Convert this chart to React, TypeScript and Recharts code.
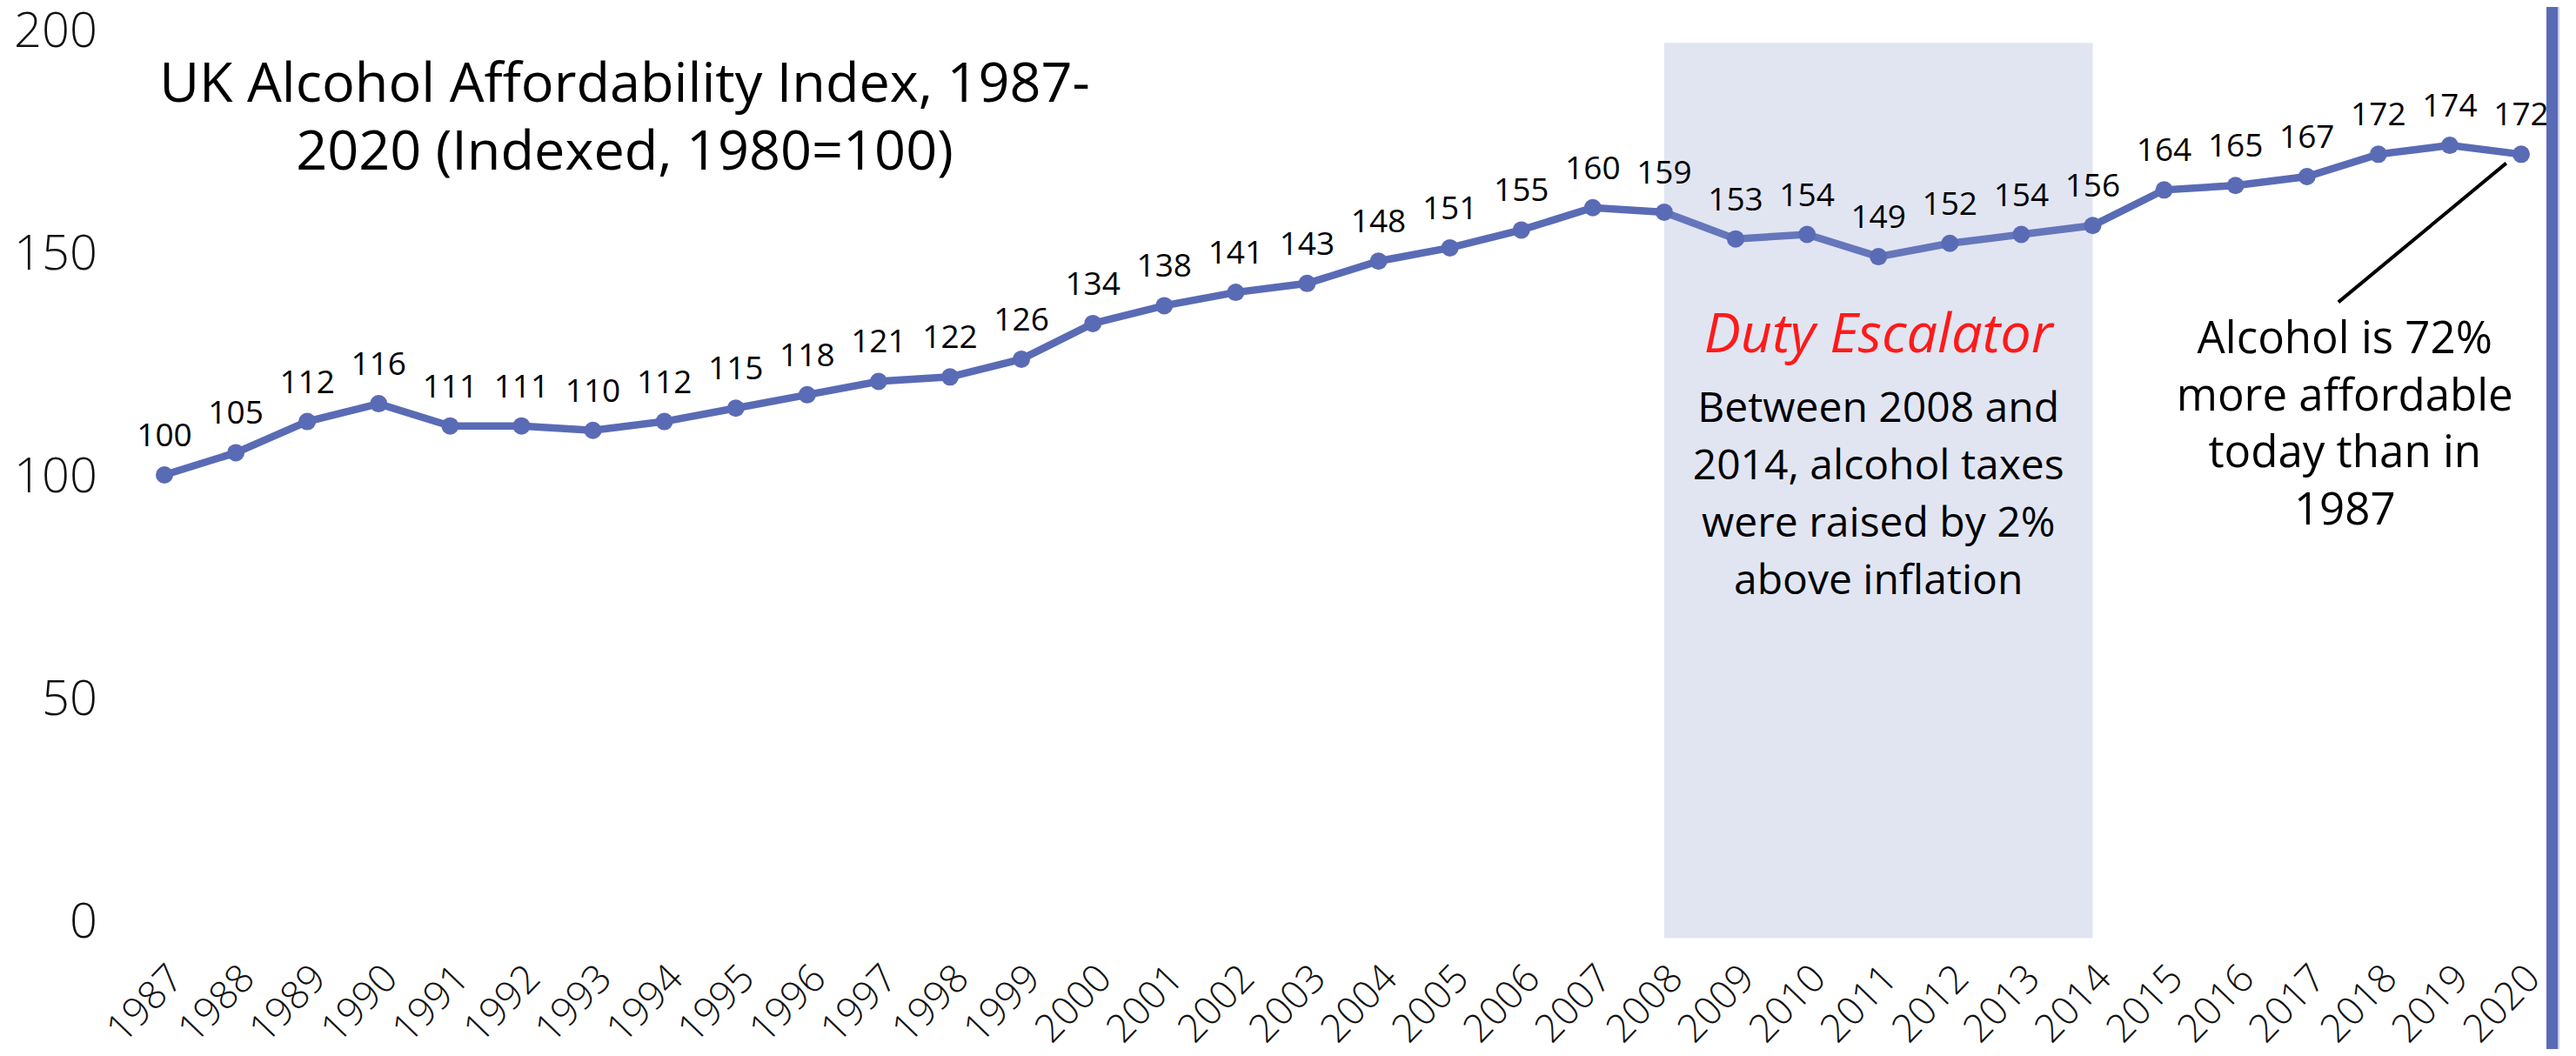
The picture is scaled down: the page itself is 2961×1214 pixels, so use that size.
import React from 'react';
import {
  LineChart,
  Line,
  XAxis,
  YAxis,
  ReferenceArea,
  ReferenceLine,
  LabelList,
} from 'recharts';

const years = [
  1987, 1988, 1989, 1990, 1991, 1992, 1993, 1994, 1995, 1996, 1997, 1998,
  1999, 2000, 2001, 2002, 2003, 2004, 2005, 2006, 2007, 2008, 2009, 2010,
  2011, 2012, 2013, 2014, 2015, 2016, 2017, 2018, 2019, 2020,
];
const affordability = [
  100, 105, 112, 116, 111, 111, 110, 112, 115, 118, 121, 122,
  126, 134, 138, 141, 143, 148, 151, 155, 160, 159, 153, 154,
  149, 152, 154, 156, 164, 165, 167, 172, 174, 172,
];
const yTicks = [0, 50, 100, 150, 200];
const escalatorStart = 2008;
const escalatorEnd = 2014;

const titleLines = ['UK Alcohol Affordability Index, 1987-', '2020 (Indexed, 1980=100)'];
const escalatorTitle = 'Duty Escalator';
const escalatorNote = ['Between 2008 and', '2014, alcohol taxes', 'were raised by 2%', 'above inflation'];
const calloutNote = ['Alcohol is 72%', 'more affordable', 'today than in', '1987'];

const data = years.map((year, i) => ({ year, index: affordability[i] }));

const BLUE = '#5A6BB5';
const FONT = '"Open Sans", "Noto Sans", sans-serif';
const W = 2961;
const H = 1214;

function YearTick({ x, y, payload }: any) {
  const ax = x + 24;
  const ay = y + 63;
  return (
    <text
      x={ax}
      y={ay}
      transform={`rotate(-46 ${ax} ${ay})`}
      textAnchor="end"
      fontSize={45}
      fontFamily={FONT}
      fontWeight={300}
      fill="#111"
    >
      {payload.value}
    </text>
  );
}

function escalatorLabel(props: any) {
  const vb = props.viewBox;
  const cx = vb.x + vb.width / 2;
  const top = vb.y;
  return (
    <g fontFamily={FONT} textAnchor="middle">
      <text x={cx} y={top + 356} fill="#FF1A1A" fontStyle="italic" fontSize={63}>
        {escalatorTitle}
      </text>
      {escalatorNote.map((line, i) => (
        <text key={line} x={cx} y={top + 436 + i * 66} fontSize={48} fill="#000">
          {line}
        </text>
      ))}
    </g>
  );
}

function calloutLabel(props: any) {
  const vb = props.viewBox;
  const cx = vb.x + vb.width / 2;
  const top = vb.y;
  return (
    <g fontFamily={FONT} textAnchor="middle">
      {calloutNote.map((line, i) => (
        <text key={line} x={cx} y={top + i * 65.5} fontSize={51} fill="#000">
          {line}
        </text>
      ))}
    </g>
  );
}

export default function App() {
  return (
    <div style={{ position: 'relative', width: W, height: H, margin: -8, background: '#fff' }}>
      <LineChart
        width={W}
        height={H}
        data={data}
        margin={{ top: 34, right: 63, bottom: 0, left: 0 }}
      >
        <XAxis
          type="number"
          dataKey="year"
          domain={[1987, 2020]}
          ticks={years}
          interval={0}
          axisLine={false}
          tickLine={false}
          tickMargin={0}
          height={156}
          tick={<YearTick />}
        />
        <YAxis
          domain={[0, 200]}
          ticks={yTicks}
          width={189}
          axisLine={false}
          tickLine={false}
          tickMargin={71}
          tick={{ fontSize: 56, fontFamily: FONT, fontWeight: 300, fill: '#111' }}
        />
        <Line
          type="linear"
          dataKey="index"
          stroke={BLUE}
          strokeWidth={8.5}
          dot={{ r: 10, fill: BLUE, stroke: BLUE, strokeWidth: 0 }}
          activeDot={false}
          isAnimationActive={false}
        />
        <ReferenceArea
          x1={escalatorStart}
          x2={escalatorEnd}
          y1={-4}
          y2={197}
          ifOverflow="visible"
          fill="#8999CC"
          fillOpacity={0.255}
          stroke="none"
          zIndex={450}
          label={escalatorLabel}
        />
        <ReferenceArea
          x1={2016}
          x2={2019.06}
          y1={0}
          y2={127.3}
          ifOverflow="visible"
          fill="none"
          fillOpacity={0}
          stroke="none"
          label={calloutLabel}
        />
        <ReferenceLine
          segment={[
            { x: 2017.44, y: 138.8 },
            { x: 2019.79, y: 170.0 },
          ]}
          stroke="#000"
          strokeWidth={4}
          ifOverflow="visible"
        />
        <Line
          type="linear"
          dataKey="index"
          stroke="none"
          dot={false}
          activeDot={false}
          isAnimationActive={false}
          legendType="none"
        >
          <LabelList
            dataKey="index"
            position="top"
            offset={33}
            fontSize={37}
            fontFamily={FONT}
            fill="#000"
          />
        </Line>
      </LineChart>
      <svg
        width={W}
        height={H}
        style={{ position: 'absolute', left: 0, top: 0, pointerEvents: 'none' }}
      >
        <g fontFamily={FONT} fontSize={63} textAnchor="middle" fill="#000">
          {titleLines.map((line, i) => (
            <text key={line} x={718} y={117 + i * 78}>
              {line}
            </text>
          ))}
        </g>
        <rect x={2668} y={0} width={195} height={3} fill={BLUE} />
        <rect x={2927} y={0} width={13} height={H} fill={BLUE} />
        <rect x={2940} y={0} width={2} height={H} fill="#C5CCE6" />
      </svg>
    </div>
  );
}
